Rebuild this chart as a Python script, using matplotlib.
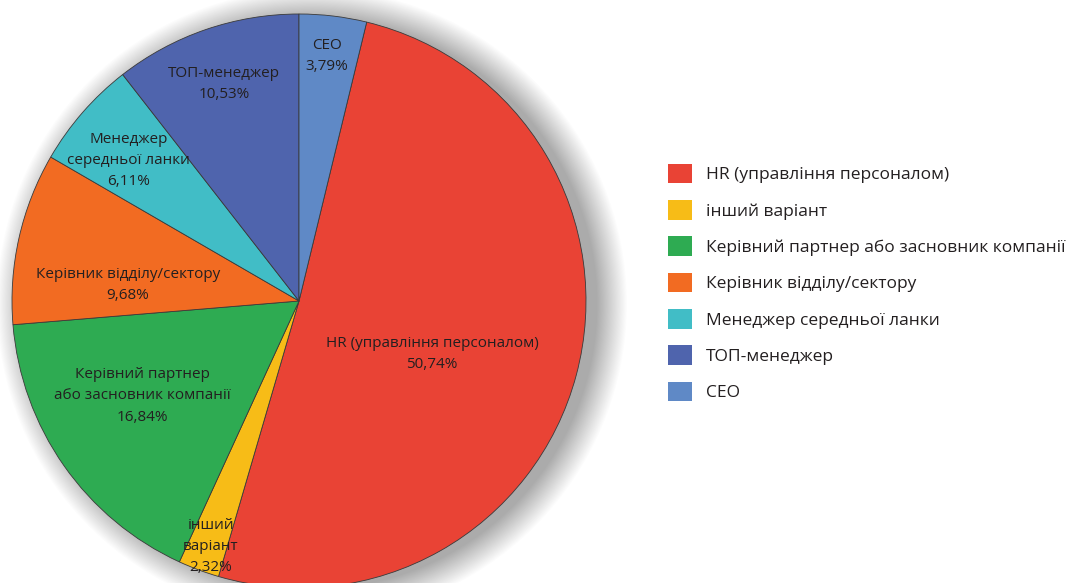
import matplotlib.pyplot as plt
import matplotlib.patches as mpatches

plt.rcParams["font.family"] = ["Open Sans", "DejaVu Sans"]
plt.rcParams["font.weight"] = "medium"

labels = [
    "HR (управління персоналом)",
    "інший варіант",
    "Керівний партнер або засновник компанії",
    "Керівник відділу/сектору",
    "Менеджер середньої ланки",
    "ТОП-менеджер",
    "CEO",
]
pie_labels = [
    "HR (управління персоналом)",
    "інший\nваріант",
    "Керівний партнер\nабо засновник компанії",
    "Керівник відділу/сектору",
    "Менеджер\nсередньої ланки",
    "ТОП-менеджер",
    "CEO",
]
values = [50.74, 2.32, 16.84, 9.68, 6.11, 10.53, 3.79]
colors = ["#E94335", "#F7BC17", "#2EAB52", "#F26B22", "#41BDC6", "#4F64AD", "#5F89C6"]

# label centres inside the pie (axes data units, radius = 1)
label_pos = [
    (0.463, -0.185),
    (-0.307, -0.854),
    (-0.547, -0.331),
    (-0.596, 0.056),
    (-0.595, 0.488),
    (-0.261, 0.756),
    (0.098, 0.854),
]

W, H = 1074, 583
fig = plt.figure(figsize=(W / 100, H / 100), dpi=100)

cx, cy, r = 299, 301, 287
ax = fig.add_axes([(cx - r) / W, (H - cy - r) / H, 2 * r / W, 2 * r / H])
ax.axis("off")

# soft shadow, shifted to the right
for k in range(28):
    ax.add_patch(mpatches.Circle((0.045, -0.01), 0.995 + 0.0038 * k, color="#000000",
                                 alpha=0.01, lw=0, zorder=0, clip_on=False))

# CEO closes the circle at 12 o'clock, HR starts right after it
start = 90 - 360 * values[-1] / sum(values)
wedges, _ = ax.pie(
    values,
    colors=colors,
    startangle=start,
    counterclock=False,
    radius=1.0,
    wedgeprops=dict(edgecolor="#3a3a3a", linewidth=0.6),
    frame=False,
)
ax.set_xlim(-1, 1)
ax.set_ylim(-1, 1)
for w in wedges:
    w.set_clip_on(False)

for lab, v, (x, y) in zip(pie_labels, values, label_pos):
    ax.text(x, y, f"{lab}\n{v:.2f}%".replace(".", ","), ha="center", va="center",
            fontsize=11, color="#231F20", linespacing=1.55)

leg = fig.legend(
    wedges,
    labels,
    loc="upper left",
    bbox_to_anchor=(652 / W, 1 - 148 / H),
    frameon=False,
    fontsize=12.5,
    handlelength=1.38,
    handleheight=1.38,
    handletextpad=0.85,
    labelspacing=0.95,
    labelcolor="#231F20",
)
for h in leg.legend_handles:
    h.set_edgecolor("none")

fig.savefig("out.png", dpi=100)
